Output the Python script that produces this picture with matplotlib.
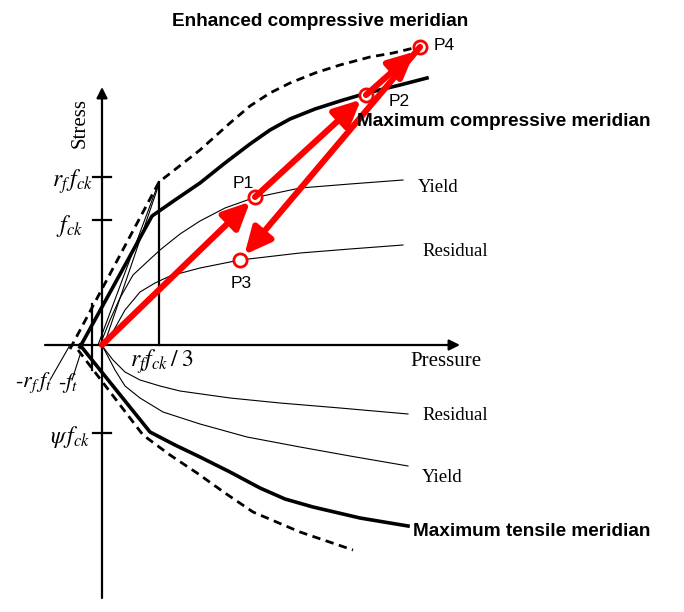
import matplotlib
matplotlib.use("Agg")
import matplotlib.pyplot as plt

plt.rcParams['mathtext.fontset'] = 'stix'
plt.rcParams['font.family'] = ['Liberation Sans', 'DejaVu Sans']

# curves in (pressure, stress) units, origin at the axes crossing
enh_comp_x = [-32, 57, 98, 128, 148, 168, 188, 213, 238, 268, 291, 316]
enh_comp_y = [-4, 163, 195, 222, 239, 252, 262, 272, 280, 288, 292, 298]
max_comp_x = [-22, 50, 73, 98, 123, 148, 168, 188, 213, 238, 265, 298, 325]
max_comp_y = [-2, 129, 145, 162, 182, 201, 215, 226, 236, 244, 252, 260, 267]
max_tens_x = [-22, 48, 73, 98, 128, 158, 183, 211, 258, 306]
max_tens_y = [0, -87, -100, -112, -127, -143, -154, -162, -173, -181]
enh_tens_x = [-24, 41, 68, 95, 123, 151, 198, 251]
enh_tens_y = [-5, -90, -110, -128, -148, -167, -187, -205]

yield_c_x = [-2, 8, 18, 31, 45, 58, 78, 98, 123, 151, 198, 248, 301]
yield_c_y = [0, 25, 47, 70, 83, 95, 111, 124, 137, 147, 157, 161, 165]
resid_c_x = [3, 13, 23, 38, 53, 68, 98, 138, 198, 248, 301]
resid_c_y = [0, 17, 35, 53, 62, 69, 77, 85, 92, 96, 100]
resid_t_x = [1, 11, 23, 38, 58, 78, 128, 178, 238, 306]
resid_t_y = [-2, -15, -27, -35, -41, -46, -53, -58, -63, -69]
yield_t_x = [1, 13, 23, 38, 61, 98, 145, 198, 248, 306]
yield_t_y = [-2, -25, -41, -53, -67, -79, -92, -102, -111, -121]

# load path O -> P1 -> P2 -> P4 -> P3
pt_names = ['P1', 'P2', 'P4', 'P3']
pt_x = [153, 264, 318, 138]
pt_y = [148, 250, 298, 85]

fig = plt.figure(figsize=(6.84, 6.12), dpi=100)
ax = fig.add_axes([0, 0, 1, 1])
ax.set_xlim(-102, 582)
ax.set_ylim(-267, 345)
ax.axis('off')

# axes with arrows
ax.annotate('', xy=(0, 258), xytext=(0, -253),
            arrowprops=dict(arrowstyle='-|>', lw=1.6, color='k', mutation_scale=16,
                            shrinkA=0, shrinkB=0))
ax.annotate('', xy=(358, 0), xytext=(-57, 0),
            arrowprops=dict(arrowstyle='-|>', lw=1.6, color='k', mutation_scale=16,
                            shrinkA=0, shrinkB=0))
for ty in [168, 125, -88]:
    ax.plot([-9, 9], [ty, ty], color='k', lw=1.6)
ax.plot([57, 57], [0, 163], color='k', lw=1.6)
ax.plot([-10, -10], [41, -25], color='k', lw=1.6)

# meridians
ax.plot(enh_comp_x, enh_comp_y, color='k', lw=2.0, ls=(0, (3, 2)))
ax.plot(enh_tens_x, enh_tens_y, color='k', lw=2.0, ls=(0, (3, 2)))
ax.plot(max_comp_x, max_comp_y, color='k', lw=2.6)
ax.plot(max_tens_x, max_tens_y, color='k', lw=2.6)

# yield / residual surfaces
for xs, ys in [(yield_c_x, yield_c_y), (resid_c_x, resid_c_y),
               (resid_t_x, resid_t_y), (yield_t_x, yield_t_y)]:
    ax.plot(xs, ys, color='k', lw=0.8)
ax.plot([-4, 55], [0, 158], color='k', lw=0.8)
ax.plot([2, 56], [0, 158], color='k', lw=0.8)
ax.plot([-52, -32], [-35, 0], color='k', lw=0.8)
ax.plot([-30, -22], [-35, -10], color='k', lw=0.8)

# red loading path
px = [0] + pt_x
py = [0] + pt_y
for i in range(len(pt_x)):
    ax.annotate('', xy=(px[i + 1], py[i + 1]), xytext=(px[i], py[i]),
                arrowprops=dict(arrowstyle='-|>,head_length=0.8,head_width=0.38',
                                lw=4.4, color='#ff0000', mutation_scale=20,
                                shrinkA=0, shrinkB=5))
ax.plot(pt_x, pt_y, 'o', ms=9.5, mfc='white', mec='#ff0000', mew=2, ls='none')

ax.text(141, 162, 'P1', fontsize=12.5, ha='center', va='center')
ax.text(297, 244, 'P2', fontsize=12.5, ha='center', va='center')
ax.text(342, 300, 'P4', fontsize=12.5, ha='center', va='center')
ax.text(139, 62, 'P3', fontsize=12.5, ha='center', va='center')

# meridian labels
ax.text(218, 323, 'Enhanced compressive meridian', fontsize=13.7, weight='bold',
        ha='center', va='center')
ax.text(402, 224, 'Maximum compressive meridian', fontsize=13.7, weight='bold',
        ha='center', va='center')
ax.text(430, -186, 'Maximum tensile meridian', fontsize=13.7, weight='bold',
        ha='center', va='center')

serif = 'Liberation Serif'
ax.text(316, 158, 'Yield', fontsize=13.5, family=serif, ha='left', va='center')
ax.text(320, 94, 'Residual', fontsize=13.5, family=serif, ha='left', va='center')
ax.text(320, -71, 'Residual', fontsize=13.5, family=serif, ha='left', va='center')
ax.text(320, -133, 'Yield', fontsize=13.5, family=serif, ha='left', va='center')
ax.text(-22, 222, 'Stress', fontsize=15, family=serif, rotation=90,
        ha='center', va='center')
ax.text(344, -17, 'Pressure', fontsize=15, family=serif, ha='center', va='center')

ax.text(-9, 163, r'$r_f\,f_{ck}$', fontsize=17, ha='right', va='center')
ax.text(-19, 119, r'$f_{ck}$', fontsize=17, ha='right', va='center')
ax.text(-12, -92, r'$\psi\,f_{ck}$', fontsize=17, ha='right', va='center')
ax.text(-69, -38, r'$\text{-}r_f\,f_t$', fontsize=16, ha='center', va='center')
ax.text(-34, -38, r'$\text{-}f_t$', fontsize=16, ha='center', va='center')
ax.text(28, -17, r'$r_f f_{ck}\,/\;3$', fontsize=17, ha='left', va='center')

fig.savefig('out.png', dpi=100)
